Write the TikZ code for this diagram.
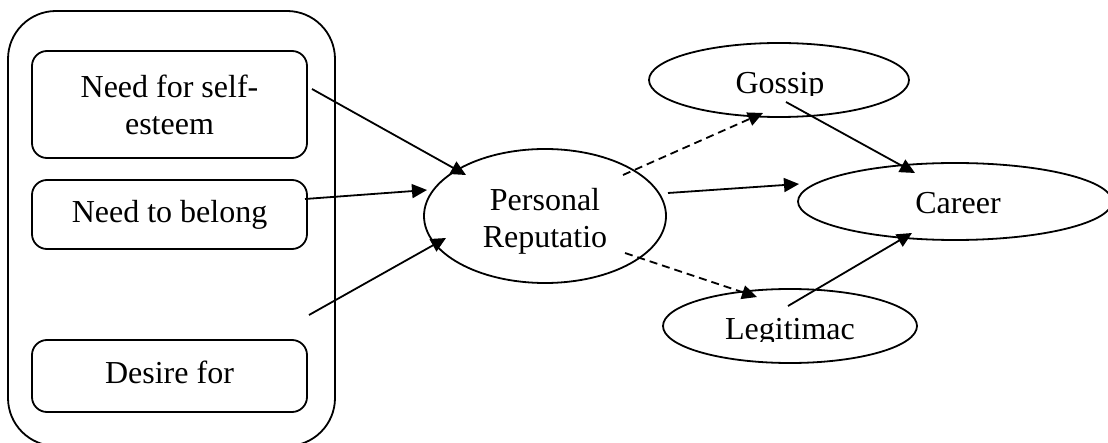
\documentclass[tikz,border=0pt]{standalone}
\usepackage{fontspec}
\setmainfont{Liberation Serif}
\usetikzlibrary{shapes.geometric,arrows.meta,calc}
\begin{document}
\begin{tikzpicture}[x=1pt,y=-1pt,
  every node/.style={font=\fontsize{32}{37}\selectfont},
  group/.style={draw,line width=1.8pt,rounded corners=48pt,minimum width=327pt,minimum height=435pt,inner sep=0pt},
  box/.style={draw,line width=1.8pt,rounded corners=15pt,minimum width=275pt,inner sep=0pt,align=center},
  oval/.style={draw,ellipse,line width=1.8pt,inner sep=0pt},
  txt/.style={inner sep=0pt,align=center},
  conn/.style={line width=1.8pt,-{Triangle[length=15pt,width=14pt]}},
  dconn/.style={conn,dash pattern=on 8pt off 5pt}]
\useasboundingbox (0,0) rectangle (1108,443);
% left group
\node[group] (grp) at (171.5,228.5) {};
\node[box,minimum height=107pt] (b1) at (169.5,104.5) {Need for self-\\esteem};
\node[box,minimum height=69pt] (b2) at (169.5,214.5) {Need to belong};
\node[box,minimum height=72pt,text depth=7pt] (b3) at (169.5,376) {Desire for};
% ellipses
\node[oval,minimum width=242pt,minimum height=134pt] (pr) at (545,216) {};
\node[txt] (prt) at (545,221) {Personal\\Reputatio};
\node[oval,minimum width=260pt,minimum height=74pt] (go) at (779,80) {};
\node[oval,minimum width=314pt,minimum height=77pt] (ca) at (955,201.5) {};
\node[txt] (cat) at (958,203) {Career};
\node[oval,minimum width=254pt,minimum height=74pt] (le) at (790,326) {};
\begin{scope}
\clip (650,50) rectangle (910,96);
\node[txt] (got) at (780,86.6) {Gossip};
\end{scope}
\begin{scope}
\clip (670,295) rectangle (910,342);
\node[txt] (let) at (790,332.5) {Legitimac};
\end{scope}
% connector ends
\coordinate (s1) at (312,89);  \coordinate (t1) at (466,175);
\coordinate (s2) at (305,199); \coordinate (t2) at (427,190);
\coordinate (s3) at (309,315); \coordinate (t3) at (446,238);
\coordinate (s4) at (623,175); \coordinate (t4) at (763,113);
\coordinate (s5) at (668,193); \coordinate (t5) at (799,184);
\coordinate (s6) at (786,102); \coordinate (t6) at (915,173);
\coordinate (s7) at (625,253); \coordinate (t7) at (757,297);
\coordinate (s8) at (788,306); \coordinate (t8) at (912,233);
\draw[conn] (s1) -- (t1);
\draw[conn] (s2) -- (t2);
\draw[conn] (s3) -- (t3);
\draw[dconn] (s4) -- (t4);
\draw[conn] (s5) -- (t5);
\draw[conn] (s6) -- (t6);
\draw[dconn] (s7) -- (t7);
\draw[conn] (s8) -- (t8);
\end{tikzpicture}
\end{document}
